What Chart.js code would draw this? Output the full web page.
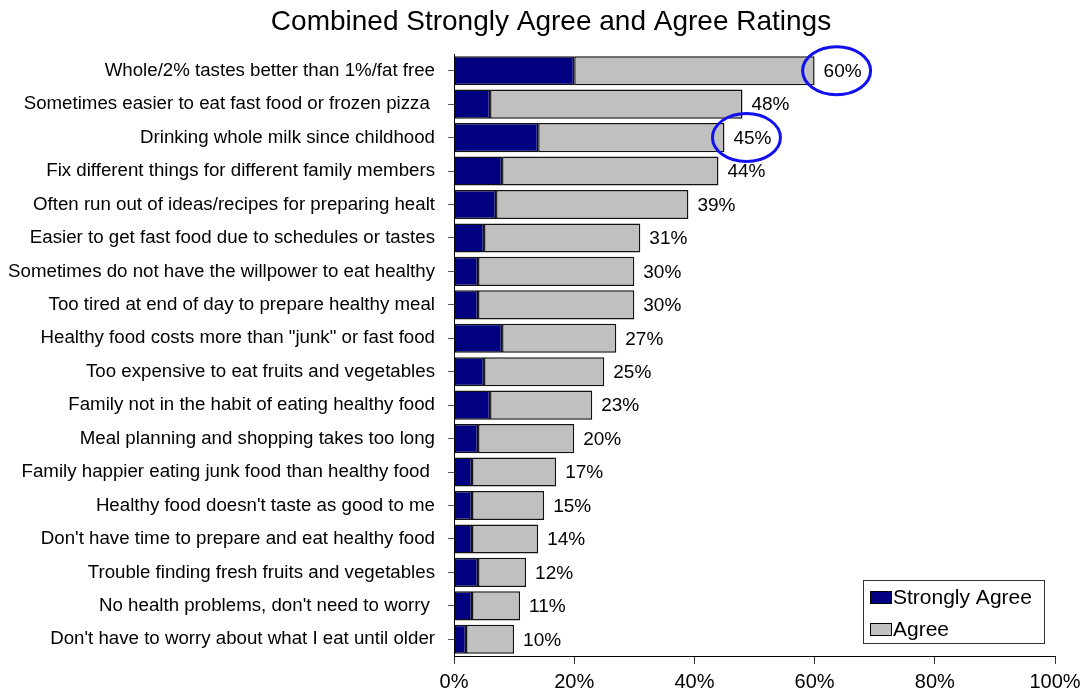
<!DOCTYPE html>
<html>
<head>
<meta charset="utf-8">
<script src="https://cdn.jsdelivr.net/npm/chart.js@4/dist/chart.umd.min.js"></script>
<style>
html,body{margin:0;padding:0;background:#fff;}
#wrap{width:1088px;height:694px;position:relative;}
</style>
</head>
<body>
<div id="wrap"><canvas id="c" width="1088" height="694"></canvas></div>
<script>
const titleText = "Combined Strongly Agree and Agree Ratings";
const categories = [
  "Whole/2% tastes better than 1%/fat free",
  "Sometimes easier to eat fast food or frozen pizza ",
  "Drinking whole milk since childhood",
  "Fix different things for different family members",
  "Often run out of ideas/recipes for preparing healt",
  "Easier to get fast food due to schedules or tastes",
  "Sometimes do not have the willpower to eat healthy",
  "Too tired at end of day to prepare healthy meal",
  "Healthy food costs more than \"junk\" or fast food",
  "Too expensive to eat fruits and vegetables",
  "Family not in the habit of eating healthy food",
  "Meal planning and shopping takes too long",
  "Family happier eating junk food than healthy food ",
  "Healthy food doesn't taste as good to me",
  "Don't have time to prepare and eat healthy food",
  "Trouble finding fresh fruits and vegetables",
  "No health problems, don't need to worry ",
  "Don't have to worry about what I eat until older"
];
const totals = [60,48,45,44,39,31,30,30,27,25,23,20,17,15,14,12,11,10];
const stronglyAgree = [20,6,14,8,7,5,4,4,8,5,6,4,3,3,3,4,3,2];
const agree = totals.map((t,i)=>t-stronglyAgree[i]);
const highlighted = [0,2];
const xTicks = [0,20,40,60,80,100];
const seriesNames = ["Strongly Agree","Agree"];
const seriesColors = ["#000080","#C0C0C0"];

const FONT = "'Liberation Sans', Arial, sans-serif";

const overlay = {
  id:'overlay',
  afterDatasetsDraw(chart){
    const ctx = chart.ctx, xs = chart.scales.x, ys = chart.scales.y;
    ctx.save();
    // value labels
    ctx.fillStyle = '#000';
    ctx.font = "19px " + FONT;
    ctx.textBaseline = 'middle';
    ctx.textAlign = 'left';
    totals.forEach((t,i)=>{
      ctx.fillText(t + '%', xs.getPixelForValue(t) + 9, ys.getPixelForValue(i) + 1);
    });
    // highlight ellipses
    ctx.strokeStyle = '#1010F0';
    ctx.lineWidth = 3;
    highlighted.forEach(i=>{
      const cx = xs.getPixelForValue(totals[i]) + 22;
      const cy = ys.getPixelForValue(i);
      ctx.beginPath();
      ctx.ellipse(cx, cy, 34, 24, 0, 0, Math.PI*2);
      ctx.stroke();
    });
    // title
    ctx.fillStyle = '#000';
    ctx.font = "28px " + FONT;
    ctx.textAlign = 'center';
    ctx.textBaseline = 'middle';
    ctx.fillText(titleText, 551, 22);
    // legend
    const ca = chart.chartArea;
    const lx = ca.right - 192, ly = ca.bottom - 76, lw = 181, lh = 63;
    ctx.fillStyle = '#fff';
    ctx.fillRect(lx, ly, lw, lh);
    ctx.strokeStyle = '#333';
    ctx.lineWidth = 1;
    ctx.strokeRect(lx + 0.5, ly + 0.5, lw, lh);
    ctx.font = "21px " + FONT;
    ctx.textAlign = 'left';
    seriesNames.forEach((n,k)=>{
      const sy = ly + 11 + k*32;
      ctx.fillStyle = seriesColors[k];
      ctx.fillRect(lx + 7, sy, 21, 12);
      ctx.strokeStyle = '#000';
      ctx.strokeRect(lx + 7.5, sy + 0.5, 21, 12);
      ctx.fillStyle = '#000';
      ctx.fillText(n, lx + 30, sy + 7);
    });
    ctx.restore();
  }
};

new Chart(document.getElementById('c'), {
  type:'bar',
  data:{
    labels: categories,
    datasets:[
      {label:seriesNames[0], data:stronglyAgree, backgroundColor:seriesColors[0], borderColor:'#111', borderWidth:1.5, borderSkipped:false},
      {label:seriesNames[1], data:agree, backgroundColor:seriesColors[1], borderColor:'#111', borderWidth:1.5, borderSkipped:false}
    ]
  },
  options:{
    indexAxis:'y',
    responsive:false,
    animation:false,
    devicePixelRatio:1,
    layout:{padding:{top:54,right:33,bottom:0,left:0}},
    plugins:{legend:{display:false},title:{display:false},tooltip:{enabled:false}},
    datasets:{bar:{categoryPercentage:1,barPercentage:0.87}},
    scales:{
      x:{
        type:'linear', stacked:true, min:0, max:100,
        afterBuildTicks(s){ s.ticks = xTicks.map(v=>({value:v})); },
        afterFit(s){ s.height = 38; },
        grid:{drawOnChartArea:false, tickLength:8, color:'#333', tickColor:'#333'},
        border:{color:'#000', width:1},
        ticks:{color:'#000', font:{family:FONT, size:20}, padding:6, callback:v=>v+'%', maxRotation:0}
      },
      y:{
        stacked:true,
        afterFit(s){ s.width = 454; },
        grid:{drawOnChartArea:false, offset:false, tickLength:6, color:'#555', tickColor:'#555'},
        border:{color:'#000', width:1},
        ticks:{color:'#000', font:{family:FONT, size:18.7}, padding:13, autoSkip:false}
      }
    }
  },
  plugins:[overlay]
});
</script>
</body>
</html>
